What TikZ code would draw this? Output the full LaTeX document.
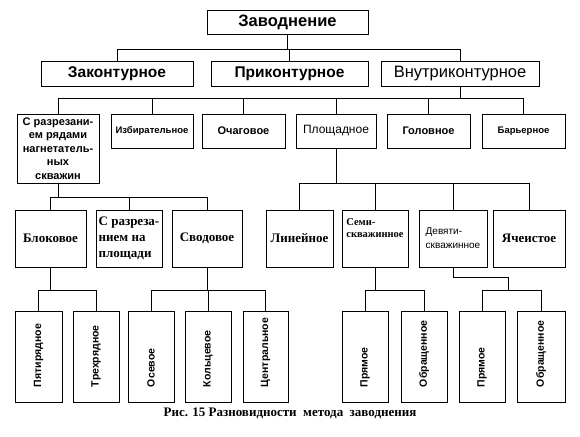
\documentclass[tikz,border=0pt]{standalone}
\usepackage{fontspec}
\setmainfont{Liberation Serif}
\setsansfont{Liberation Sans}
\newcommand{\shrift}[2][1.2]{\fontsize{#2}{#1\dimexpr#2pt\relax}\selectfont}

\begin{document}
\begin{tikzpicture}[
  x=1pt, y=-1pt,
  uzel/.style={draw, line width=0.9pt, inner sep=1pt, align=center},
  verh/.style={uzel, minimum height=25pt, font=\sffamily\bfseries\shrift{15.5}},
  sred/.style={uzel, minimum height=34pt, font=\sffamily\bfseries\shrift{10}},
  niz/.style={uzel, minimum height=57pt, font=\bfseries\shrift{13}},
  vert/.style={uzel, rotate=90, minimum width=91pt, text width=77pt,
               inner xsep=7pt, align=left, font=\sffamily\bfseries\shrift{10.5},
               execute at begin node=\hspace*{8pt}},
  linia/.style={line width=0.9pt}
]
\useasboundingbox (0,0) rectangle (580,436);

% верхние уровни
\node[verh, minimum width=161pt, minimum height=24pt, font=\sffamily\bfseries\shrift{16.5}] (zav) at (287.5,22) {Заводнение};
\node[verh, minimum width=152pt] (zak)  at (117,73.5)   {Законтурное};
\node[verh, minimum width=157pt] (prik) at (289.5,73.5) {Приконтурное};
\node[verh, minimum width=158pt, font=\sffamily\shrift{16.5}] (vnut) at (460,73.5) {Внутриконтурное};

% виды внутриконтурного
\node[sred, minimum width=82pt, minimum height=69pt, font=\sffamily\bfseries\fontsize{11}{13.6}\selectfont] (razr) at (58,148.5)
  {С разрезани-\\ем рядами\\нагнетатель-\\ных\\скважин};
\node[sred, minimum width=82pt, font=\sffamily\bfseries\shrift{9.5}] (izb) at (152,131) {Избирательное};
\node[sred, minimum width=83pt, font=\sffamily\bfseries\shrift{11}] (och) at (243.5,131) {Очаговое};
\node[sred, minimum width=80pt, font=\sffamily\shrift{12}] (plosh) at (336,131) {Площадное};
\node[sred, minimum width=83pt, font=\sffamily\bfseries\shrift{11}] (golov) at (428.5,131) {Головное};
\node[sred, minimum width=83pt, font=\sffamily\bfseries\shrift{9.5}] (bar) at (523.5,131) {Барьерное};

% третий уровень
\node[niz, minimum width=71pt] (blok)  at (50.5,238.5) {Блоковое};
\node[niz, minimum width=66pt, align=left, font=\bfseries\fontsize{13}{16}\selectfont] (razpl) at (129,238.5)
  {С разреза-\\нием на\\площади};
\node[niz, minimum width=70pt] (svod)  at (207,238.5)  {Сводовое};
\node[niz, minimum width=67pt] (lin)   at (299.5,238.5) {Линейное};
\node[niz, minimum width=66pt, align=left, font=\bfseries\shrift{10.5}] (semi) at (375,238.5)
  {Семи-\\скважинное\\[8pt]};
\node[niz, minimum width=68pt, align=left, font=\sffamily\shrift{10}] (devy) at (453,238.5)
  {Девяти-\\[2pt]скважинное};
\node[niz, minimum width=72pt] (yach)  at (529,238.5) {Ячеистое};

% нижний уровень
\node[vert, minimum height=47pt] (pyat)  at (38.5,356.5) {Пятирядное};
\node[vert, minimum height=46pt] (treh)  at (96,356.5)   {Трехрядное};
\node[vert, minimum height=46pt] (osev)  at (151,356.5)  {Осевое};
\node[vert, minimum height=46pt] (kolc)  at (208,356.5)  {Кольцевое};
\node[vert, minimum height=45pt] (centr) at (265.5,356.5) {Центральное};
\node[vert, minimum height=46pt] (pr1)   at (365,356.5)  {Прямое};
\node[vert, minimum height=46pt] (obr1)  at (424,356.5)  {Обращенное};
\node[vert, minimum height=46pt] (pr2)   at (482,356.5)  {Прямое};
\node[vert, minimum height=48pt] (obr2)  at (541,356.5)  {Обращенное};

\node[font=\bfseries\shrift{13}] (podp) at (290,413) {Рис. 15 Разновидности \ метода \ заводнения};

% шины
\coordinate (sh1) at (0,49);
\coordinate (sh2) at (0,98);
\coordinate (sh3) at (0,197);
\coordinate (sh4) at (0,183);
\coordinate (sh5) at (0,290);
\coordinate (izg) at (508,277);

\draw[linia] (zav.south) -- (zav.south |- sh1);
\draw[linia] (zak.north) -- (zak.north |- sh1) -- (vnut.north |- sh1) -- (vnut.north);
\draw[linia] (prik.north) -- (prik.north |- sh1);

\draw[linia] (vnut.south) -- (vnut.south |- sh2);
\draw[linia] (razr.north) -- (razr.north |- sh2) -- (bar.north |- sh2) -- (bar.north);
\foreach \n in {izb, och, plosh, golov}
  \draw[linia] (\n.north) -- (\n.north |- sh2);

\draw[linia] (razr.south) -- (razr.south |- sh3);
\draw[linia] (blok.north) -- (blok.north |- sh3) -- (svod.north |- sh3) -- (svod.north);
\draw[linia] (razpl.north) -- (razpl.north |- sh3);

\draw[linia] (plosh.south) -- (plosh.south |- sh4);
\draw[linia] (lin.north) -- (lin.north |- sh4) -- (yach.north |- sh4) -- (yach.north);
\foreach \n in {semi, devy}
  \draw[linia] (\n.north) -- (\n.north |- sh4);

\draw[linia] (blok.south) -- (blok.south |- sh5);
\draw[linia] (pyat.east) -- (pyat.east |- sh5) -- (treh.east |- sh5) -- (treh.east);

\draw[linia] (svod.south) -- (svod.south |- sh5);
\draw[linia] (osev.east) -- (osev.east |- sh5) -- (centr.east |- sh5) -- (centr.east);
\draw[linia] (kolc.east) -- (kolc.east |- sh5);

\draw[linia] (semi.south) -- (semi.south |- sh5);
\draw[linia] (pr1.east) -- (pr1.east |- sh5) -- (obr1.east |- sh5) -- (obr1.east);

\draw[linia] (devy.south) |- (izg) -- (izg |- sh5);
\draw[linia] (pr2.east) -- (pr2.east |- sh5) -- (obr2.east |- sh5) -- (obr2.east);
\end{tikzpicture}
\end{document}
